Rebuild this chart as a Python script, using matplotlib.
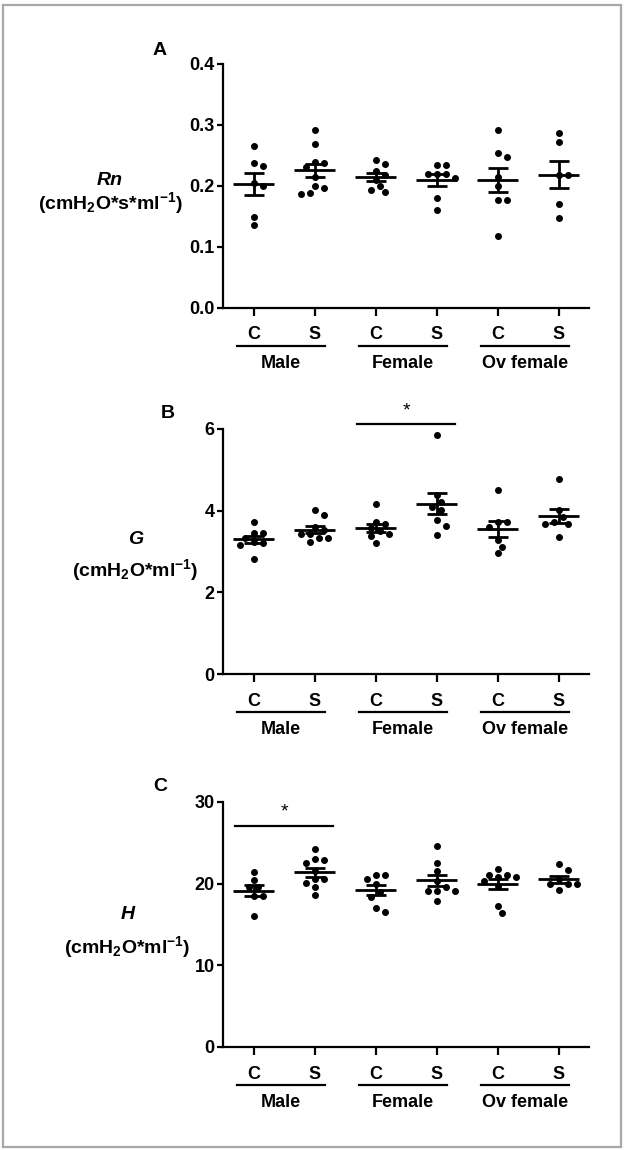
import numpy as np
import matplotlib
matplotlib.use('Agg')
import matplotlib.pyplot as plt
from matplotlib.patches import Rectangle

plt.rcParams['font.family'] = ['Liberation Sans', 'DejaVu Sans']
plt.rcParams['mathtext.fontset'] = 'custom'
plt.rcParams['mathtext.bf'] = 'Liberation Sans:bold'
plt.rcParams['mathtext.rm'] = 'Liberation Sans:bold'
plt.rcParams['mathtext.default'] = 'bf'

#categories
tick_labels = ['C', 'S', 'C', 'S', 'C', 'S']
group_names = ['Male', 'Female', 'Ov female']

#panel A - Rn values per group
rn_vals = [
    [0.265, 0.238, 0.233, 0.205, 0.200, 0.149, 0.135],
    [0.292, 0.269, 0.239, 0.237, 0.231, 0.215, 0.199, 0.196, 0.188, 0.187],
    [0.242, 0.235, 0.225, 0.218, 0.210, 0.200, 0.190, 0.193],
    [0.234, 0.234, 0.219, 0.219, 0.219, 0.212, 0.180, 0.160],
    [0.291, 0.254, 0.247, 0.214, 0.199, 0.176, 0.176, 0.118],
    [0.286, 0.272, 0.218, 0.218, 0.170, 0.147],
]
#panel B - G values
g_vals = [
    [3.73, 3.45, 3.45, 3.33, 3.22, 3.20, 3.17, 2.81],
    [4.02, 3.89, 3.61, 3.53, 3.44, 3.44, 3.32, 3.32, 3.22],
    [4.16, 3.73, 3.67, 3.57, 3.51, 3.44, 3.38, 3.20],
    [5.84, 4.38, 4.22, 4.10, 4.02, 3.77, 3.63, 3.40],
    [4.51, 3.71, 3.71, 3.61, 3.27, 3.12, 2.97],
    [4.77, 4.02, 3.84, 3.73, 3.67, 3.67, 3.36],
]
#panel C - H values
h_vals = [
    [21.4, 20.4, 19.6, 19.6, 18.5, 18.5, 16.0],
    [24.2, 23.0, 22.9, 22.5, 21.6, 20.6, 20.5, 20.1, 19.6, 18.6],
    [21.1, 21.1, 20.5, 19.9, 19.0, 18.4, 17.0, 16.5],
    [24.6, 22.5, 21.5, 20.3, 19.6, 19.1, 19.1, 19.1, 17.9],
    [21.8, 21.1, 21.1, 20.8, 20.8, 20.3, 19.7, 17.3, 16.4],
    [22.4, 21.7, 20.5, 19.9, 19.9, 19.9, 19.2],
]

panels = [
    dict(vals=rn_vals, ymax=0.4, yticks=[0.0, 0.1, 0.2, 0.3, 0.4], fmt='%.1f',
         letter='A', name='Rn', unit='(cmH$_2$O*s*ml$^{-1}$)',
         rect=[0.357, 0.7324, 0.5854, 0.2121], lab_x=-0.309, lab_y=(0.523, 0.429),
         let_xy=(-0.175, 1.056), sig=None),
    dict(vals=g_vals, ymax=6, yticks=[0, 2, 4, 6], fmt='%d',
         letter='B', name='G', unit='(cmH$_2$O*ml$^{-1}$)',
         rect=[0.357, 0.4139, 0.5854, 0.2131], lab_x=-0.24, lab_y=(0.547, 0.424),
         let_xy=(-0.150, 1.065), sig=(2.5, 6.12)),
    dict(vals=h_vals, ymax=30, yticks=[0, 10, 20, 30], fmt='%d',
         letter='C', name='H', unit='(cmH$_2$O*ml$^{-1}$)',
         rect=[0.357, 0.0896, 0.5854, 0.2131], lab_x=-0.262, lab_y=(0.539, 0.408),
         let_xy=(-0.172, 1.061), sig=(0.5, 27.1)),
]


def swarm(vals, ymax, h_px=244.0, px_unit=61.0, d=7.5):
    """simple beeswarm offsets in data x units"""
    vals = np.asarray(vals, dtype=float)
    ypx = vals / ymax * h_px
    offs = np.zeros(len(vals))
    placed = []
    for i in np.argsort(-vals):
        for k in [0, 1, -1, 2, -2, 3, -3, 4, -4, 5, -5, 6, -6]:
            x = k * d * 0.6
            ok = all((x - px) ** 2 + (ypx[i] - py) ** 2 >= d ** 2 for px, py in placed)
            if ok:
                break
        placed.append((x, ypx[i]))
        offs[i] = x / px_unit
    return offs


fig = plt.figure(figsize=(6.25, 11.5), dpi=100)
fig.patches.append(Rectangle((0.005, 0.003), 0.988, 0.993, transform=fig.transFigure,
                             fill=False, edgecolor='#a8a8a8', linewidth=1.6))

xpos = np.arange(len(tick_labels))
for p in panels:
    ax = fig.add_axes(p['rect'])
    for i, v in enumerate(p['vals']):
        v = np.array(v)
        ax.plot(xpos[i] + swarm(v, p['ymax']), v, 'o', color='black', ms=4.0,
                clip_on=False, zorder=3)
        m = v.mean()
        sem = v.std(ddof=1) / np.sqrt(len(v))
        ax.hlines(m, xpos[i] - 0.33, xpos[i] + 0.33, color='black', lw=2.0, zorder=4)
        ax.errorbar(xpos[i], m, yerr=sem, fmt='none', ecolor='black',
                    elinewidth=2.0, capsize=7, capthick=2.0, zorder=4)
    ax.set_xlim(-0.5, 5.5)
    ax.set_ylim(0, p['ymax'])
    ax.set_yticks(p['yticks'])
    ax.set_yticklabels([p['fmt'] % t for t in p['yticks']])
    ax.set_xticks(xpos)
    ax.set_xticklabels(tick_labels)
    for s in ['top', 'right']:
        ax.spines[s].set_visible(False)
    for s in ['left', 'bottom']:
        ax.spines[s].set_linewidth(1.6)
    ax.tick_params(axis='y', length=4.5, width=1.6, pad=1.5, labelsize=13)
    ax.tick_params(axis='x', length=5.5, width=1.6, pad=8, labelsize=13)
    for lbl in ax.get_xticklabels() + ax.get_yticklabels():
        lbl.set_fontweight('bold')

    #group brackets under the axis
    tr = ax.get_xaxis_transform()
    for g, name in enumerate(group_names):
        c = xpos[2 * g] + 0.45
        ax.plot([c - 0.72, c + 0.72], [-0.157, -0.157], color='black', lw=1.6,
                transform=tr, clip_on=False)
        ax.text(c, -0.228, name, transform=tr, ha='center', va='center',
                fontsize=13, fontweight='bold')

    #significance bar
    if p['sig'] is not None:
        cx, sy = p['sig']
        ax.plot([cx - 0.8, cx + 0.8], [sy, sy], color='black', lw=1.6, clip_on=False)
        ax.text(cx, sy + p['ymax'] * 0.02, '*', ha='center', va='bottom',
                fontsize=14)

    ax.text(p['let_xy'][0], p['let_xy'][1], p['letter'], transform=ax.transAxes,
            ha='center', va='center', fontsize=14, fontweight='bold')
    ax.text(p['lab_x'], p['lab_y'][0], p['name'], transform=ax.transAxes,
            ha='center', va='center', fontsize=14, fontweight='bold', style='italic')
    ax.text(p['lab_x'], p['lab_y'][1], p['unit'], transform=ax.transAxes,
            ha='center', va='center', fontsize=14, fontweight='bold')

plt.savefig('out.png', dpi=100)
